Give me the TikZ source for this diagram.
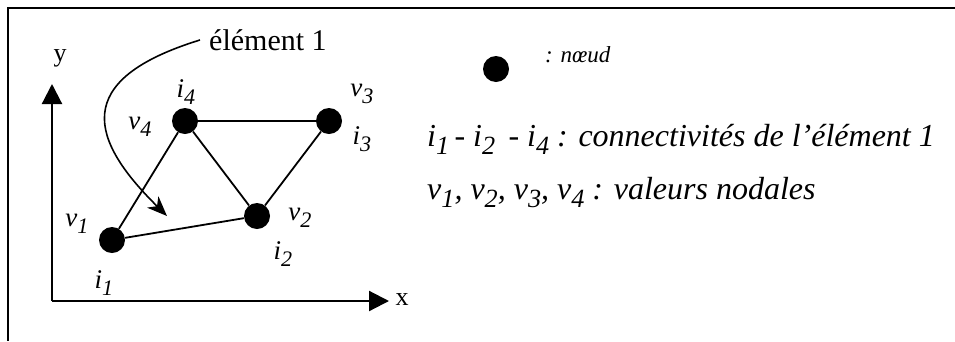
\documentclass[tikz,border=0pt]{standalone}
\usepackage{fontspec}
\usepackage{graphicx}
\setmainfont{Liberation Serif}
\usetikzlibrary{arrows.meta}
\newcommand\isub[2]{\textit{#1}\raisebox{-0.25em}{\scalebox{0.82}{\textit{#2}}}}
\begin{document}
\begin{tikzpicture}[x=1pt,y=-1pt,
  dot/.style={circle,fill=black,inner sep=0pt,minimum size=26pt},
  edge/.style={line width=1.8pt},
  axis/.style={line width=2.2pt,-{Triangle[length=20pt,width=20pt]}},
  lbl/.style={inner sep=0pt,font=\fontsize{27}{29}\selectfont\itshape},
  big/.style={inner sep=0pt,anchor=west,font=\fontsize{32}{34}\selectfont\itshape}]
\useasboundingbox (0,0) rectangle (955,341);
\draw[line width=2pt] (955,8) -- (8,8) -- (8,341);
% axes
\coordinate (O) at (52,301);
\coordinate (ytip) at (52,84);
\coordinate (xtip) at (389,301);
\draw[axis] (O) -- (ytip);
\draw[axis] (O) -- (xtip);
\node[inner sep=0pt,font=\fontsize{26}{28}\selectfont] (ylab) at (60,58) {y};
\node[inner sep=0pt,font=\fontsize{26}{28}\selectfont] (xlab) at (402,300) {x};
% nodes
\node[dot] (n1) at (112,240) {};
\node[dot] (n2) at (257,216) {};
\node[dot] (n3) at (329,121) {};
\node[dot] (n4) at (185,121) {};
\draw[edge] (n1) -- (n4);
\draw[edge] (n1) -- (n2);
\draw[edge] (n4) -- (n3);
\draw[edge] (n4) -- (n2);
\draw[edge] (n3) -- (n2);
% labels
\node[lbl] (li4) at (186,92) {\isub{i}{4}};
\node[lbl] (lv4) at (140,127) {\isub{v}{4}};
\node[lbl] (lv3) at (362,94) {\isub{v}{3}};
\node[lbl] (li3) at (362,139) {\isub{i}{3}};
\node[lbl] (lv1) at (77,224) {\isub{v}{1}};
\node[lbl] (lv2) at (300,218) {\isub{v}{2}};
\node[lbl] (li2) at (283,254) {\isub{i}{2}};
\node[lbl] (li1) at (104,283) {\isub{i}{1}};
% element label
\node[inner sep=0pt,anchor=west,font=\fontsize{30}{32}\selectfont] (elem) at (209,40) {élément 1};
\coordinate (start) at (200,40);
\coordinate (tip) at (167,216);
\draw[line width=1.6pt,-{Stealth[length=20pt,width=16pt,inset=6pt]}] (start) .. controls (70,80) and (90,140) .. (tip);
% legend
\node[dot] (ld) at (496,69) {};
\node[inner sep=0pt,anchor=west,font=\fontsize{23}{25}\selectfont\itshape] (lt) at (545,55) {: nœud};
\node[big] (conn) at (427,139) {\isub{i}{1}\,- \isub{i}{2} \,- \isub{i}{4} : connectivités de l’élément 1};
\node[big] (vals) at (427,193) {\isub{v}{1}, \isub{v}{2}, \isub{v}{3}, \isub{v}{4} : valeurs nodales};
\end{tikzpicture}
\end{document}
